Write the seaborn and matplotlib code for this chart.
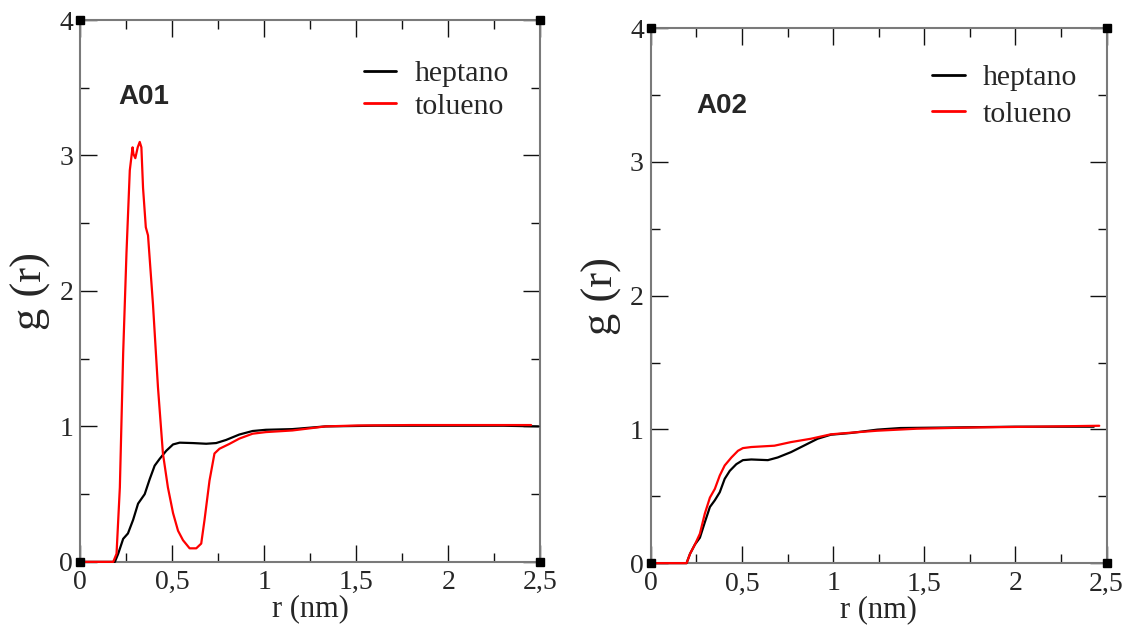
import numpy as np
import pandas as pd
import matplotlib
matplotlib.use("Agg")
import matplotlib.pyplot as plt
from matplotlib.ticker import MultipleLocator, FuncFormatter
import seaborn as sns

# Radial distribution functions g(r) of two asphaltene models in heptane / toluene
a01_hep_r = [0.0, 0.189, 0.207, 0.234, 0.26, 0.288, 0.315, 0.351, 0.378, 0.405, 0.432,
             0.468, 0.505, 0.541, 0.613, 0.685, 0.739, 0.793, 0.865, 0.937, 1.009,
             1.153, 1.333, 1.6, 2.0, 2.3, 2.49]
a01_hep_g = [0.0, 0.0, 0.06, 0.17, 0.21, 0.31, 0.43, 0.50, 0.61, 0.71, 0.76,
             0.82, 0.867, 0.88, 0.877, 0.872, 0.877, 0.90, 0.94, 0.966, 0.975,
             0.98, 1.0, 1.005, 1.005, 1.005, 1.0]

a01_tol_r = [0.0, 0.18, 0.198, 0.216, 0.234, 0.252, 0.27, 0.285, 0.29, 0.30, 0.313,
             0.324, 0.333, 0.342, 0.357, 0.369, 0.396, 0.423, 0.45, 0.477, 0.505,
             0.532, 0.559, 0.595, 0.631, 0.658, 0.676, 0.703, 0.73, 0.757, 0.81,
             0.865, 0.937, 1.009, 1.153, 1.333, 1.51, 1.8, 2.1, 2.45]
a01_tol_g = [0.0, 0.0, 0.06, 0.55, 1.54, 2.28, 2.89, 3.06, 3.01, 2.98, 3.06,
             3.10, 3.06, 2.76, 2.47, 2.41, 1.90, 1.29, 0.80, 0.55, 0.36,
             0.23, 0.16, 0.10, 0.10, 0.135, 0.31, 0.60, 0.80, 0.835, 0.87,
             0.91, 0.946, 0.958, 0.97, 1.0, 1.007, 1.01, 1.01, 1.01]

a02_hep_r = [0.0, 0.196, 0.215, 0.242, 0.269, 0.296, 0.324, 0.351, 0.378, 0.405,
             0.433, 0.469, 0.505, 0.551, 0.587, 0.642, 0.696, 0.769, 0.842, 0.915,
             0.987, 1.096, 1.242, 1.369, 1.7, 2.0, 2.43]
a02_hep_g = [0.0, 0.0, 0.07, 0.14, 0.19, 0.305, 0.42, 0.47, 0.53, 0.63,
             0.69, 0.74, 0.77, 0.775, 0.773, 0.77, 0.79, 0.83, 0.88, 0.93,
             0.96, 0.973, 0.998, 1.01, 1.015, 1.02, 1.02]

a02_tol_r = [0.0, 0.196, 0.215, 0.242, 0.269, 0.296, 0.324, 0.351, 0.378, 0.405,
             0.442, 0.478, 0.505, 0.551, 0.678, 0.769, 0.878, 0.987, 1.096, 1.242,
             1.46, 1.8, 2.1, 2.46]
a02_tol_g = [0.0, 0.0, 0.07, 0.14, 0.22, 0.37, 0.49, 0.555, 0.655, 0.73,
             0.79, 0.84, 0.86, 0.868, 0.878, 0.905, 0.93, 0.963, 0.975, 0.99,
             1.005, 1.015, 1.02, 1.027]

solvents = ["heptano", "tolueno"]
panel_names = ["A01", "A02"]
x_ticks = [0, 0.5, 1, 1.5, 2, 2.5]
y_ticks = [0, 1, 2, 3, 4]

frames = []
for name, series in zip(panel_names,
                        [((a01_hep_r, a01_hep_g), (a01_tol_r, a01_tol_g)),
                         ((a02_hep_r, a02_hep_g), (a02_tol_r, a02_tol_g))]):
    for solv, (r, g) in zip(solvents, series):
        frames.append(pd.DataFrame({"r": r, "g": g, "solvente": solv, "modelo": name}))
data = pd.concat(frames, ignore_index=True)

sns.set_theme(style="ticks")
plt.rcParams["font.family"] = ["Liberation Serif", "DejaVu Serif"]

fig = plt.figure(figsize=(11.28, 6.25), dpi=100)
axes = [fig.add_axes([0.071, 0.101, 0.408, 0.867]),
        fig.add_axes([0.577, 0.099, 0.404, 0.856])]

palette = {"heptano": "#000000", "tolueno": "#ff0000"}
label_pos = [(0.21, 3.43), (0.25, 3.42)]
legend_anchor = [(0.59, 0.948), (0.59, 0.955)]
legend_gap = [0.2, 0.32]

comma = FuncFormatter(lambda v, p: (f"{v:g}").replace(".", ","))

for ax, name, (lx, ly), anchor, gap in zip(axes, panel_names, label_pos,
                                           legend_anchor, legend_gap):
    sub = data[data["modelo"] == name]
    sns.lineplot(data=sub, x="r", y="g", hue="solvente", hue_order=solvents,
                 palette=palette, linewidth=1.6, ax=ax, estimator=None, sort=False)
    # curves drawn over the frame so the g = 0 stretch stays visible
    for ln in ax.get_lines():
        ln.set_zorder(3)
        ln.set_clip_on(False)
    ax.set_xlim(0, 2.5)
    ax.set_ylim(0, 4)
    ax.set_xticks(x_ticks)
    ax.set_yticks(y_ticks)
    ax.xaxis.set_minor_locator(MultipleLocator(0.25))
    ax.yaxis.set_minor_locator(MultipleLocator(0.5))
    ax.xaxis.set_major_formatter(comma)
    ax.tick_params(which="both", direction="in", top=True, right=True,
                   color="#111111", width=1.0)
    ax.tick_params(which="major", length=12, labelsize=20)
    ax.tick_params(axis="x", which="major", pad=6)
    ax.tick_params(axis="y", which="major", pad=5)
    ax.tick_params(which="minor", length=6.5)
    for sp in ax.spines.values():
        sp.set_color("#7a7a7a")
        sp.set_linewidth(1.5)
    ax.set_xlabel("r (nm)", fontsize=22, labelpad=-1)
    ax.set_ylabel("g (r)", fontsize=32, labelpad=6)
    ax.text(lx, ly, name, fontsize=20, fontweight="bold",
            family=["Liberation Sans", "DejaVu Sans"], va="center", ha="left")
    leg = ax.legend(loc="upper left", bbox_to_anchor=anchor, frameon=False,
                    fontsize=21.5, handlelength=1.1, handletextpad=0.6,
                    labelspacing=gap, borderaxespad=0)
    for h in leg.get_lines():
        h.set_linewidth(2.0)
    # corner markers of the plot frame
    ax.plot([0, 1, 0, 1], [0, 0, 1, 1], "s", color="black", markersize=6,
            transform=ax.transAxes, clip_on=False, zorder=5)

fig.savefig("out.png", dpi=100, facecolor="white")
